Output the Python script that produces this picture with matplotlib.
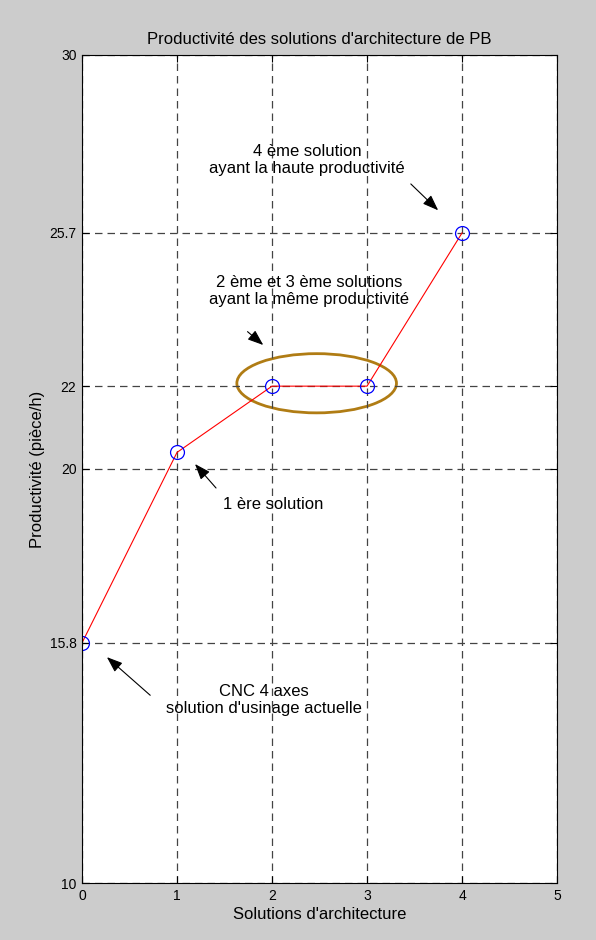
import matplotlib.pyplot as plt
from matplotlib.patches import Ellipse

solutions = [0, 1, 2, 3, 4]
productivite = [15.8, 20.4, 22, 22, 25.7]
yticks = [10, 15.8, 20, 22, 25.7, 30]
ytick_labels = ['10', '15.8', '20', '22', '25.7', '30']
xticks = [0, 1, 2, 3, 4, 5]

notes = [
    ("4 ème solution\nayant la haute productivité", (2.37, 27.46), (3.44, 26.93), (3.77, 26.2)),
    ("2 ème et 3 ème solutions\nayant la même productivité", (2.39, 24.30), (1.72, 23.36), (1.93, 22.95)),
    ("1 ère solution", (2.01, 19.13), (1.43, 19.49), (1.17, 20.17)),
    ("CNC 4 axes\nsolution d'usinage actuelle", (1.91, 14.42), (0.74, 14.49), (0.24, 15.5)),
]

plt.rcParams.update({"font.family": ["Liberation Sans", "DejaVu Sans"],
                     "font.size": 12})

fig = plt.figure(figsize=(5.96, 9.4), dpi=100, facecolor='#cccccc')
ax = fig.add_axes([0.1376, 0.0606, 0.797, 0.881])

ax.plot(solutions, productivite, '-', c='red', lw=0.8)
ax.plot(solutions, productivite, 'o', mfc='none', mec='blue', ms=10, mew=0.9)

ell = Ellipse((2.47, 22.07), 1.68, 1.43, fill=False, ec='#b07c14', lw=2)
ax.add_patch(ell)

for txt, tpos, tail, head in notes:
    ax.text(tpos[0], tpos[1], txt, ha='center', va='center', fontsize=12,
            linespacing=1.1)
    ax.annotate('', xy=head, xytext=tail,
                arrowprops=dict(arrowstyle='-|>,head_length=0.8,head_width=0.3',
                                color='k', lw=0.8))

ax.set_xlim(0, 5)
ax.set_ylim(10, 30)
ax.set_xticks(xticks)
ax.set_yticks(yticks)
ax.set_yticklabels(ytick_labels)
ax.tick_params(which='both', direction='in', top=True, right=True,
               labelsize=10, length=5, pad=4)
ax.grid(True, ls=(0, (6, 4)), c='#444444', lw=0.9)
for s in ax.spines.values():
    s.set_linewidth(0.8)

ax.set_title("Productivité des solutions d'architecture de PB", fontsize=12, pad=8)
ax.set_xlabel("Solutions d'architecture", fontsize=12, labelpad=3)
ax.set_ylabel("Productivité (pièce/h)", fontsize=12, labelpad=3)

fig.savefig('out.png', dpi=100, facecolor=fig.get_facecolor())
plt.close()
